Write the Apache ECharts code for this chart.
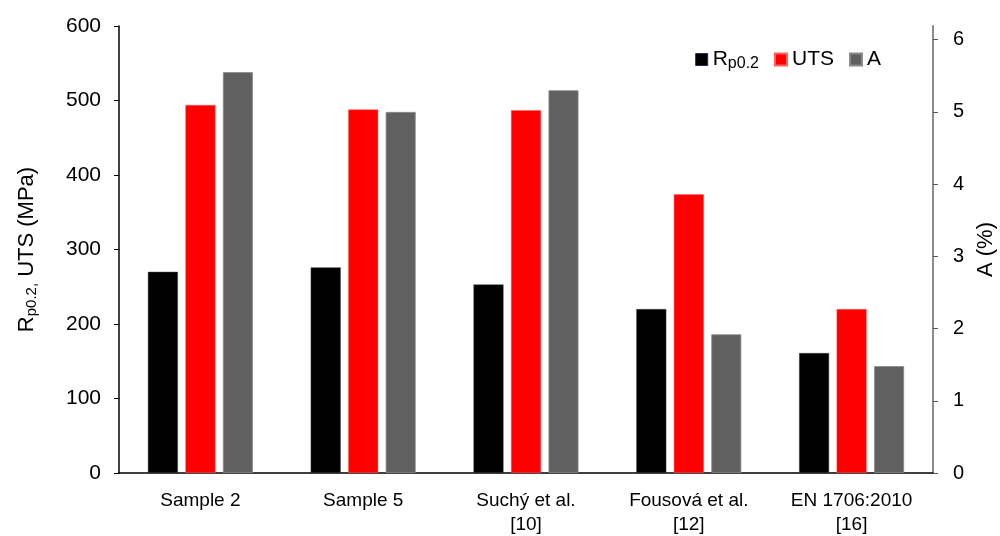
<!DOCTYPE html>
<html>
<head>
<meta charset="utf-8">
<script src="https://cdn.jsdelivr.net/npm/echarts@6/dist/echarts.min.js"></script>
<style>html,body{margin:0;padding:0;background:#fff}#c{width:1000px;height:536px}</style>
</head>
<body>
<div id="c"></div>
<script>
var categories = ['Sample 2', 'Sample 5', 'Suchý et al.\n[10]', 'Fousová et al.\n[12]', 'EN 1706:2010\n[16]'];
var rp02 = [270, 276, 253, 220, 161];
var uts = [494, 488, 487, 374, 220];
var elong = [5.55, 5.0, 5.3, 1.92, 1.48];
var leftTicks = [0, 100, 200, 300, 400, 500, 600];
var rightTicks = [0, 1, 2, 3, 4, 5, 6];

var font = 'Liberation Sans, Arial, sans-serif';
var chart = echarts.init(document.getElementById('c'));
chart.setOption({
  animation: false,
  backgroundColor: '#fff',
  grid: { left: 119, right: 67, top: 26, bottom: 63, containLabel: false, outerBoundsMode: 'none' },
  legend: {
    top: 44, right: 114,
    icon: 'rect', itemWidth: 12, itemHeight: 12, itemGap: 15,
    textStyle: {
      fontFamily: font, fontSize: 21, color: '#000', padding: [0, 0, 0, 0],
      rich: {
        m: { fontFamily: font, fontSize: 21, color: '#000' },
        s: { fontFamily: font, fontSize: 16, color: '#000', padding: [9, 0, 0, 0] }
      }
    },
    formatter: function (n) { return n === 'Rp0.2' ? '{m|R}{s|p0.2}' : '{m|' + n + '}'; },
    data: [
      { name: 'Rp0.2', itemStyle: { color: '#000', borderColor: '#1f2a5a', borderWidth: 1 } },
      { name: 'UTS' },
      { name: 'A' }
    ]
  },
  xAxis: {
    type: 'category',
    data: categories,
    axisLine: { lineStyle: { color: '#000', width: 1.5 } },
    axisTick: { show: false },
    axisLabel: { fontFamily: font, fontSize: 19, color: '#000', margin: 16, lineHeight: 24, interval: 0 },
    splitLine: { show: false }
  },
  yAxis: [
    {
      type: 'value', min: 0, max: 600, interval: 100,
      name: '{m|R}{s|p0.2,}{m| UTS (MPa)}',
      nameLocation: 'middle', nameRotate: 90, nameGap: 80,
      nameTextStyle: {
        rich: {
          m: { fontFamily: font, fontSize: 22, color: '#000' },
          s: { fontFamily: font, fontSize: 15, color: '#000', padding: [9, 0, 0, 0] }
        }
      },
      axisLine: { show: true, lineStyle: { color: '#000', width: 1.5 } },
      axisTick: { show: true, inside: false, length: 5, lineStyle: { color: '#000' } },
      axisLabel: { fontFamily: font, fontSize: 21, color: '#000', margin: 18, customValues: leftTicks },
      splitLine: { show: false }
    },
    {
      type: 'value', min: 0, max: 6.19,
      name: 'A (%)',
      nameLocation: 'middle', nameRotate: 90, nameGap: 36,
      nameTextStyle: { fontFamily: font, fontSize: 22, color: '#000' },
      axisLine: { show: true, lineStyle: { color: '#8c8c8c', width: 2 } },
      axisTick: { show: true, inside: false, length: 5, lineStyle: { color: '#555' }, customValues: rightTicks },
      axisLabel: { fontFamily: font, fontSize: 20, color: '#000', margin: 20, customValues: rightTicks },
      splitLine: { show: false }
    }
  ],
  series: [
    { name: 'Rp0.2', type: 'bar', yAxisIndex: 0, data: rp02, barWidth: 30, barGap: '25%',
      itemStyle: { color: '#000', borderColor: '#444', borderWidth: 0.5 } },
    { name: 'UTS', type: 'bar', yAxisIndex: 0, data: uts, barWidth: 30, barGap: '25%',
      itemStyle: { color: '#ff0000', borderColor: '#ff6060', borderWidth: 0.5 } },
    { name: 'A', type: 'bar', yAxisIndex: 1, data: elong, barWidth: 30, barGap: '25%',
      itemStyle: { color: '#606060', borderColor: '#8a8a8a', borderWidth: 0.8 } }
  ]
});
</script>
</body>
</html>
